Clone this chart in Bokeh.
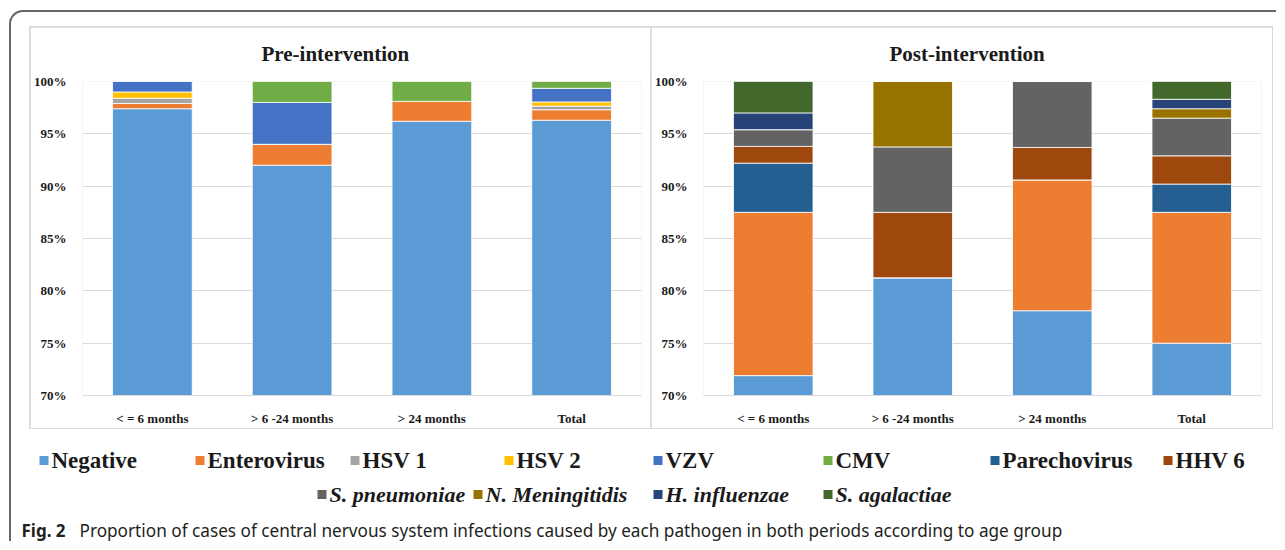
from bokeh.plotting import figure
from bokeh.models import Range1d, FactorRange, PrintfTickFormatter, ColumnDataSource, FixedTicker
from bokeh.layouts import row, column
from bokeh.embed import file_html
from bokeh.resources import INLINE
from bokeh.core.properties import value

# ---------------- data ----------------
categories = ["< = 6 months", "> 6 -24 months", "> 24 months", "Total"]

pre_keys = ["Negative", "Enterovirus", "HSV 1", "HSV 2", "VZV", "CMV"]
pre_negative = [97.4, 92.0, 96.2, 96.3]
pre_enterovirus = [0.5, 2.0, 1.9, 1.0]
pre_hsv1 = [0.5, 0.0, 0.0, 0.35]
pre_hsv2 = [0.6, 0.0, 0.0, 0.4]
pre_vzv = [1.0, 4.0, 0.0, 1.3]
pre_cmv = [0.0, 2.0, 1.9, 0.65]

post_keys = ["Negative", "Enterovirus", "Parechovirus", "HHV 6", "S. pneumoniae",
             "N. Meningitidis", "H. influenzae", "S. agalactiae"]
post_negative = [71.9, 81.25, 78.1, 75.0]
post_enterovirus = [15.6, 0.0, 12.5, 12.5]
post_parechovirus = [4.7, 0.0, 0.0, 2.7]
post_hhv6 = [1.6, 6.25, 3.1, 2.7]
post_spneumoniae = [1.6, 6.25, 6.3, 3.6]
post_nmeningitidis = [0.0, 6.25, 0.0, 0.9]
post_hinfluenzae = [1.6, 0.0, 0.0, 0.9]
post_sagalactiae = [3.0, 0.0, 0.0, 1.7]

y_ticks = [70, 75, 80, 85, 90, 95, 100]

legend_row1 = ["Negative", "Enterovirus", "HSV 1", "HSV 2", "VZV", "CMV", "Parechovirus", "HHV 6"]
legend_row2 = ["S. pneumoniae", "N. Meningitidis", "H. influenzae", "S. agalactiae"]

caption_bold = "Fig. 2"
caption_text = ("Proportion of cases of central nervous system infections caused by each "
                "pathogen in both periods according to age group")

# ---------------- styles ----------------
colors = {
    "Negative": "#5B9BD5", "Enterovirus": "#ED7D31", "HSV 1": "#A5A5A5", "HSV 2": "#FFC000",
    "VZV": "#4472C4", "CMV": "#70AD47", "Parechovirus": "#255E91", "HHV 6": "#9E480E",
    "S. pneumoniae": "#636363", "N. Meningitidis": "#997300", "H. influenzae": "#264478",
    "S. agalactiae": "#43682B",
}
legend_row1_x = [40, 196, 351, 505, 654, 824, 991, 1164]
legend_row2_x = [318, 474, 654, 824]
SERIF = "Liberation Serif"


def make_panel(title, keys, series, width, bl, br, margin, offset):
    data = {"cat": categories}
    for k, s in zip(keys, series):
        data[k] = s
    src = ColumnDataSource(data)
    p = figure(x_range=FactorRange(*categories), y_range=Range1d(70, 100),
               width=width, height=401, output_backend="svg", toolbar_location=None,
               min_border_left=bl, min_border_right=br, min_border_top=54, min_border_bottom=29,
               margin=margin, background_fill_color="white", border_fill_color="white")
    p.vbar_stack(keys, x="cat", width=0.57, source=src,
                 fill_color=[colors[k] for k in keys], line_color="white", line_width=0.8)
    p.x_range.range_padding = 0
    p.outline_line_color = None
    p.xgrid.grid_line_color = None
    p.ygrid.grid_line_color = "#d9d9d9"
    p.ygrid.grid_line_width = 1
    p.yaxis.ticker = FixedTicker(ticks=y_ticks)
    p.yaxis.formatter = PrintfTickFormatter(format="%d%%")
    p.yaxis.axis_line_color = None
    p.yaxis.major_tick_line_color = None
    p.yaxis.minor_tick_line_color = None
    p.yaxis.major_label_standoff = 10
    p.xaxis.axis_line_color = "#d9d9d9"
    p.xaxis.major_tick_line_color = None
    p.xaxis.major_label_standoff = 9
    for ax in (p.xaxis[0], p.yaxis[0]):
        ax.major_label_text_font = SERIF
        ax.major_label_text_font_style = "bold"
        ax.major_label_text_font_size = "13px"
        ax.major_label_text_color = "#1a1a1a"
    p.title.text = title
    p.title.text_font = SERIF
    p.title.text_font_style = "bold"
    p.title.text_font_size = "21px"
    p.title.text_color = "#1a1a1a"
    p.title.align = "left"
    p.title.offset = offset
    p.title.vertical_align = "top"
    p.title.standoff = 28
    return p


left = make_panel("Pre-intervention", pre_keys,
                  [pre_negative, pre_enterovirus, pre_hsv1, pre_hsv2, pre_vzv, pre_cmv],
                  620, 51, 9, (1, 0, 1, 1), 179)
right = make_panel("Post-intervention", post_keys,
                   [post_negative, post_enterovirus, post_parechovirus, post_hhv6,
                    post_spneumoniae, post_nmeningitidis, post_hinfluenzae, post_sagalactiae],
                   621, 50, 11, (1, 1, 1, 1), 186)

# ---------------- legend + caption ----------------
leg = figure(width=1265, height=112, x_range=Range1d(12, 1277), y_range=Range1d(542, 430),
             output_backend="svg", toolbar_location=None, min_border=0,
             x_axis_type=None, y_axis_type=None, outline_line_color=None)
leg.grid.visible = False

r1y, r2y = 461, 495
leg.rect(x=[x + 4.5 for x in legend_row1_x], y=[r1y] * len(legend_row1), width=9, height=9,
         fill_color=[colors[k] for k in legend_row1], line_color=None)
leg.text(x=[x + 12 for x in legend_row1_x], y=[r1y] * len(legend_row1), text=legend_row1,
         text_font=value(SERIF), text_font_style="bold", text_font_size="23px",
         text_baseline="middle", text_color="#1a1a1a")
leg.rect(x=[x + 4.5 for x in legend_row2_x], y=[r2y] * len(legend_row2), width=9, height=9,
         fill_color=[colors[k] for k in legend_row2], line_color=None)
leg.text(x=[x + 12 for x in legend_row2_x], y=[r2y] * len(legend_row2), text=legend_row2,
         text_font=value(SERIF), text_font_style="bold italic", text_font_size="22px",
         text_baseline="middle", text_color="#1a1a1a")

leg.text(x=[22], y=[531], text=[caption_bold], text_font=value("Noto Sans"),
         text_font_style="bold", text_font_size="17px", text_baseline="middle",
         text_color="#231f20")
leg.text(x=[80], y=[531], text=[caption_text], text_font=value("Noto Sans"),
         text_font_size="17.2px", text_baseline="middle", text_color="#231f20")

panels = row(left, right, margin=(14, 0, 0, 18), styles={"background-color": "#d9d9d9"})
page = column(panels, leg, margin=(10, 0, 0, 9),
              styles={"border-top": "2px solid #666666", "border-left": "2px solid #666666",
                      "border-top-left-radius": "14px"})

open("out.html", "w").write(file_html(page, INLINE))
